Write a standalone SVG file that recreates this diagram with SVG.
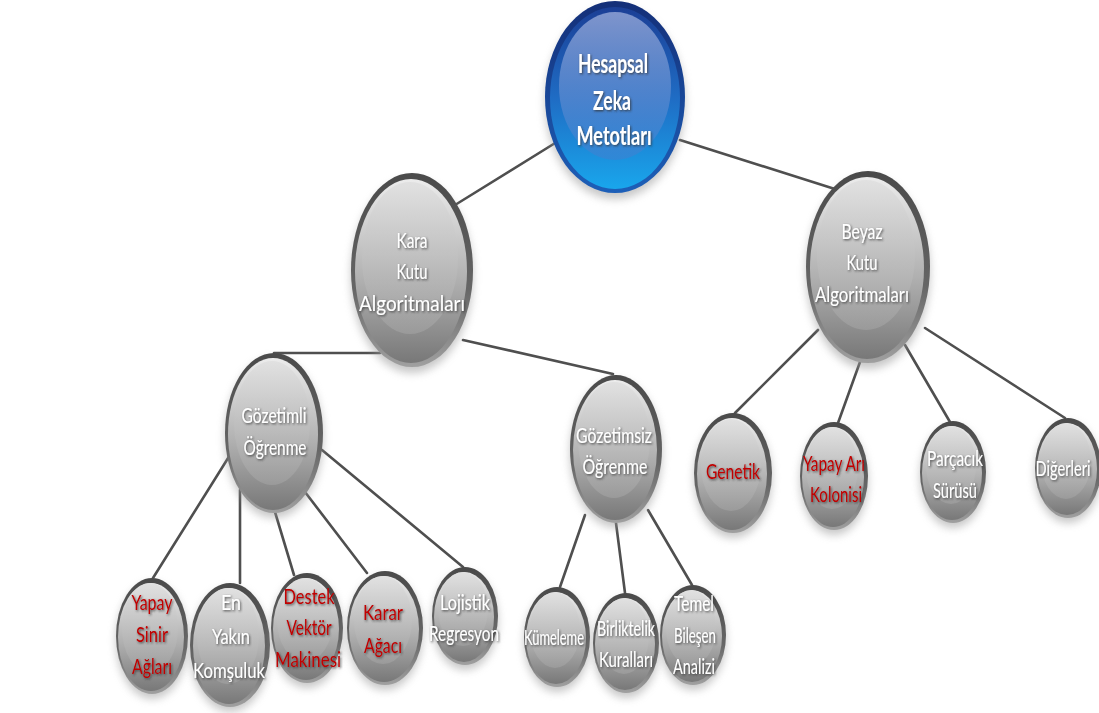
<svg xmlns="http://www.w3.org/2000/svg" width="1099" height="713" viewBox="0 0 1099 713">
<defs>
<linearGradient id="gRim" x1="0" y1="0" x2="0" y2="1">
<stop offset="0" stop-color="#4a4a4a"/><stop offset="0.6" stop-color="#666666"/><stop offset="1" stop-color="#a0a0a0"/>
</linearGradient>
<linearGradient id="gBody" x1="0" y1="0" x2="0" y2="1">
<stop offset="0" stop-color="#ececec"/><stop offset="0.55" stop-color="#b0b0b0"/><stop offset="1" stop-color="#787878"/>
</linearGradient>
<linearGradient id="gGloss" x1="0" y1="0" x2="0" y2="1">
<stop offset="0" stop-color="#e0e0e0" stop-opacity="0.9"/><stop offset="1" stop-color="#a0a0a0" stop-opacity="0.7"/>
</linearGradient>
<linearGradient id="bRim" x1="0" y1="0" x2="0" y2="1">
<stop offset="0" stop-color="#142f78"/><stop offset="1" stop-color="#1d5fb8"/>
</linearGradient>
<linearGradient id="bBody" x1="0" y1="0" x2="0" y2="1">
<stop offset="0" stop-color="#1b3f96"/><stop offset="0.5" stop-color="#1f6cc4"/><stop offset="1" stop-color="#19a6ec"/>
</linearGradient>
<linearGradient id="bGloss" x1="0" y1="0" x2="0" y2="1">
<stop offset="0" stop-color="#8a9ed2" stop-opacity="0.9"/><stop offset="1" stop-color="#3f7fd0" stop-opacity="0.55"/>
</linearGradient>
<filter id="blur" x="-20%" y="-20%" width="140%" height="140%"><feGaussianBlur stdDeviation="4"/></filter>
<filter id="ts" x="-10%" y="-30%" width="120%" height="160%"><feDropShadow dx="1" dy="1.2" stdDeviation="0.8" flood-color="#303030" flood-opacity="0.8"/></filter>
</defs>
<style>
.shadow{fill:#9a9a9a;opacity:0.55;filter:url(#blur)}
.rim{fill:url(#gRim)}
.body{fill:url(#gBody)}
.gloss{fill:url(#gGloss)}
.brim{fill:url(#bRim)}
.bbody{fill:url(#bBody)}
.bgloss{fill:url(#bGloss)}
.conn line{stroke:#4f4f4f;stroke-width:2.6;stroke-linecap:round}
text{font-family:Lato,"Open Sans","Liberation Sans",sans-serif;font-size:22px;text-anchor:middle;filter:url(#ts)}
.w{fill:#ffffff}
.r{fill:#c00000}
.t{font-weight:bold;font-size:26px;fill:#ffffff}
</style>
<rect width="1099" height="713" fill="#ffffff"/>
<g id="connectors" class="conn">
<line x1="560" y1="140" x2="455" y2="205"/>
<line x1="680" y1="140" x2="838" y2="190"/>
<line x1="380" y1="353" x2="274" y2="353"/>
<line x1="463" y1="340" x2="613" y2="374"/>
<line x1="818" y1="330" x2="735" y2="413"/>
<line x1="860" y1="362" x2="838" y2="423"/>
<line x1="905" y1="345" x2="950" y2="422"/>
<line x1="925" y1="328" x2="1065" y2="418"/>
<line x1="230" y1="455" x2="153" y2="578"/>
<line x1="240" y1="490" x2="240" y2="583"/>
<line x1="275" y1="512" x2="294" y2="575"/>
<line x1="305" y1="492" x2="367" y2="573"/>
<line x1="322" y1="450" x2="463" y2="567"/>
<line x1="585" y1="515" x2="560" y2="587"/>
<line x1="616" y1="523" x2="625" y2="593"/>
<line x1="648" y1="510" x2="692" y2="585"/>
</g>
<g id="n-hesapsal">
<ellipse class="shadow" cx="615" cy="103" rx="70" ry="96"/>
<ellipse class="brim" cx="615" cy="97" rx="70" ry="96"/>
<ellipse class="bbody" cx="615" cy="98" rx="65" ry="91"/>
<ellipse class="bgloss" cx="615" cy="86" rx="56" ry="74"/>
<text class="t" x="613" y="73" textLength="70" lengthAdjust="spacingAndGlyphs">Hesapsal</text>
<text class="t" x="612" y="110" textLength="38" lengthAdjust="spacingAndGlyphs">Zeka</text>
<text class="t" x="614" y="145" textLength="75" lengthAdjust="spacingAndGlyphs">Metotları</text>
</g>
<g id="n-kara">
<ellipse class="shadow" cx="412" cy="276" rx="61" ry="97"/>
<ellipse class="rim" cx="412" cy="270" rx="61" ry="97"/>
<ellipse class="body" cx="411" cy="271" rx="56" ry="92"/>
<ellipse class="gloss" cx="410" cy="258" rx="48" ry="76"/>
<text class="w" x="412" y="248" textLength="31" lengthAdjust="spacingAndGlyphs">Kara</text>
<text class="w" x="412" y="279" textLength="31" lengthAdjust="spacingAndGlyphs">Kutu</text>
<text class="w" x="412" y="311" textLength="106" lengthAdjust="spacingAndGlyphs">Algoritmaları</text>
</g>
<g id="n-beyaz">
<ellipse class="shadow" cx="868" cy="273" rx="62" ry="96"/>
<ellipse class="rim" cx="868" cy="267" rx="62" ry="96"/>
<ellipse class="body" cx="867" cy="268" rx="57" ry="91"/>
<ellipse class="gloss" cx="866" cy="255" rx="49" ry="75"/>
<text class="w" x="862" y="239" textLength="41" lengthAdjust="spacingAndGlyphs">Beyaz</text>
<text class="w" x="862" y="270" textLength="31" lengthAdjust="spacingAndGlyphs">Kutu</text>
<text class="w" x="862" y="302" textLength="94" lengthAdjust="spacingAndGlyphs">Algoritmaları</text>
</g>
<g id="n-gozetimli">
<ellipse class="shadow" cx="274" cy="438" rx="49" ry="80"/>
<ellipse class="rim" cx="274" cy="433" rx="49" ry="80"/>
<ellipse class="body" cx="273" cy="434" rx="45" ry="76"/>
<ellipse class="gloss" cx="272" cy="423" rx="38" ry="62"/>
<text class="w" x="274" y="423" textLength="65" lengthAdjust="spacingAndGlyphs">Gözetimli</text>
<text class="w" x="275" y="455" textLength="63" lengthAdjust="spacingAndGlyphs">Öğrenme</text>
</g>
<g id="n-gozetimsiz">
<ellipse class="shadow" cx="616" cy="454" rx="46" ry="74"/>
<ellipse class="rim" cx="616" cy="449" rx="46" ry="74"/>
<ellipse class="body" cx="615" cy="450" rx="42" ry="70"/>
<ellipse class="gloss" cx="614" cy="440" rx="36" ry="58"/>
<text class="w" x="614" y="443" textLength="76" lengthAdjust="spacingAndGlyphs">Gözetimsiz</text>
<text class="w" x="615" y="474" textLength="65" lengthAdjust="spacingAndGlyphs">Öğrenme</text>
</g>
<g id="n-ysa">
<ellipse class="shadow" cx="152" cy="641" rx="36" ry="58"/>
<ellipse class="rim" cx="152" cy="636" rx="36" ry="58"/>
<ellipse class="body" cx="151" cy="637" rx="33" ry="54"/>
<ellipse class="gloss" cx="150" cy="628" rx="28" ry="45"/>
<text class="r" x="152" y="610" textLength="41" lengthAdjust="spacingAndGlyphs">Yapay</text>
<text class="r" x="152" y="642" textLength="32" lengthAdjust="spacingAndGlyphs">Sinir</text>
<text class="r" x="152" y="674" textLength="40" lengthAdjust="spacingAndGlyphs">Ağları</text>
</g>
<g id="n-eyk">
<ellipse class="shadow" cx="230" cy="650" rx="40" ry="62"/>
<ellipse class="rim" cx="230" cy="645" rx="40" ry="62"/>
<ellipse class="body" cx="229" cy="646" rx="36" ry="58"/>
<ellipse class="gloss" cx="228" cy="636" rx="31" ry="48"/>
<text class="w" x="231" y="610" textLength="20" lengthAdjust="spacingAndGlyphs">En</text>
<text class="w" x="231" y="644" textLength="38" lengthAdjust="spacingAndGlyphs">Yakın</text>
<text class="w" x="229" y="678" textLength="72" lengthAdjust="spacingAndGlyphs">Komşuluk</text>
</g>
<g id="n-dvm">
<ellipse class="shadow" cx="307" cy="633" rx="36" ry="55"/>
<ellipse class="rim" cx="307" cy="628" rx="36" ry="55"/>
<ellipse class="body" cx="306" cy="629" rx="33" ry="51"/>
<ellipse class="gloss" cx="305" cy="620" rx="28" ry="42"/>
<text class="r" x="309" y="604" textLength="51" lengthAdjust="spacingAndGlyphs">Destek</text>
<text class="r" x="309" y="635" textLength="45" lengthAdjust="spacingAndGlyphs">Vektör</text>
<text class="r" x="308" y="667" textLength="66" lengthAdjust="spacingAndGlyphs">Makinesi</text>
</g>
<g id="n-karar">
<ellipse class="shadow" cx="385" cy="633" rx="38" ry="57"/>
<ellipse class="rim" cx="385" cy="628" rx="38" ry="57"/>
<ellipse class="body" cx="384" cy="629" rx="35" ry="53"/>
<ellipse class="gloss" cx="383" cy="620" rx="29" ry="44"/>
<text class="r" x="383" y="620" textLength="40" lengthAdjust="spacingAndGlyphs">Karar</text>
<text class="r" x="383" y="653" textLength="38" lengthAdjust="spacingAndGlyphs">Ağacı</text>
</g>
<g id="n-lojistik">
<ellipse class="shadow" cx="465" cy="621" rx="33" ry="49"/>
<ellipse class="rim" cx="465" cy="616" rx="33" ry="49"/>
<ellipse class="body" cx="464" cy="617" rx="30" ry="45"/>
<ellipse class="gloss" cx="463" cy="609" rx="25" ry="37"/>
<text class="w" x="465" y="610" textLength="50" lengthAdjust="spacingAndGlyphs">Lojistik</text>
<text class="w" x="464" y="641" textLength="70" lengthAdjust="spacingAndGlyphs">Regresyon</text>
</g>
<g id="n-kumeleme">
<ellipse class="shadow" cx="557" cy="642" rx="33" ry="50"/>
<ellipse class="rim" cx="557" cy="637" rx="33" ry="50"/>
<ellipse class="body" cx="556" cy="638" rx="30" ry="46"/>
<ellipse class="gloss" cx="555" cy="630" rx="25" ry="38"/>
<text class="w" x="554" y="645" textLength="60" lengthAdjust="spacingAndGlyphs">Kümeleme</text>
</g>
<g id="n-birliktelik">
<ellipse class="shadow" cx="626" cy="648" rx="33" ry="50"/>
<ellipse class="rim" cx="626" cy="643" rx="33" ry="50"/>
<ellipse class="body" cx="625" cy="644" rx="30" ry="46"/>
<ellipse class="gloss" cx="624" cy="636" rx="25" ry="38"/>
<text class="w" x="626" y="636" textLength="58" lengthAdjust="spacingAndGlyphs">Birliktelik</text>
<text class="w" x="626" y="667" textLength="54" lengthAdjust="spacingAndGlyphs">Kuralları</text>
</g>
<g id="n-temel">
<ellipse class="shadow" cx="693" cy="640" rx="33" ry="50"/>
<ellipse class="rim" cx="693" cy="635" rx="33" ry="50"/>
<ellipse class="body" cx="692" cy="636" rx="30" ry="46"/>
<ellipse class="gloss" cx="691" cy="628" rx="25" ry="38"/>
<text class="w" x="694" y="611" textLength="40" lengthAdjust="spacingAndGlyphs">Temel</text>
<text class="w" x="695" y="643" textLength="42" lengthAdjust="spacingAndGlyphs">Bileşen</text>
<text class="w" x="694" y="674" textLength="42" lengthAdjust="spacingAndGlyphs">Analizi</text>
</g>
<g id="n-genetik">
<ellipse class="shadow" cx="733" cy="478" rx="39" ry="60"/>
<ellipse class="rim" cx="733" cy="473" rx="39" ry="60"/>
<ellipse class="body" cx="732" cy="474" rx="35" ry="56"/>
<ellipse class="gloss" cx="731" cy="465" rx="30" ry="46"/>
<text class="r" x="733" y="479" textLength="54" lengthAdjust="spacingAndGlyphs">Genetik</text>
</g>
<g id="n-yapayari">
<ellipse class="shadow" cx="834" cy="481" rx="34" ry="54"/>
<ellipse class="rim" cx="834" cy="476" rx="34" ry="54"/>
<ellipse class="body" cx="833" cy="477" rx="31" ry="50"/>
<ellipse class="gloss" cx="832" cy="468" rx="26" ry="41"/>
<text class="r" x="834" y="471" textLength="62" lengthAdjust="spacingAndGlyphs">Yapay Arı</text>
<text class="r" x="836" y="502" textLength="52" lengthAdjust="spacingAndGlyphs">Kolonisi</text>
</g>
<g id="n-parcacik">
<ellipse class="shadow" cx="953" cy="477" rx="33" ry="51"/>
<ellipse class="rim" cx="953" cy="472" rx="33" ry="51"/>
<ellipse class="body" cx="952" cy="473" rx="30" ry="47"/>
<ellipse class="gloss" cx="951" cy="465" rx="25" ry="39"/>
<text class="w" x="955" y="466" textLength="56" lengthAdjust="spacingAndGlyphs">Parçacık</text>
<text class="w" x="955" y="498" textLength="44" lengthAdjust="spacingAndGlyphs">Sürüsü</text>
</g>
<g id="n-digerleri">
<ellipse class="shadow" cx="1068" cy="473" rx="33" ry="50"/>
<ellipse class="rim" cx="1068" cy="468" rx="33" ry="50"/>
<ellipse class="body" cx="1067" cy="469" rx="30" ry="46"/>
<ellipse class="gloss" cx="1066" cy="461" rx="25" ry="38"/>
<text class="w" x="1063" y="476" textLength="55" lengthAdjust="spacingAndGlyphs">Diğerleri</text>
</g>
</svg>
